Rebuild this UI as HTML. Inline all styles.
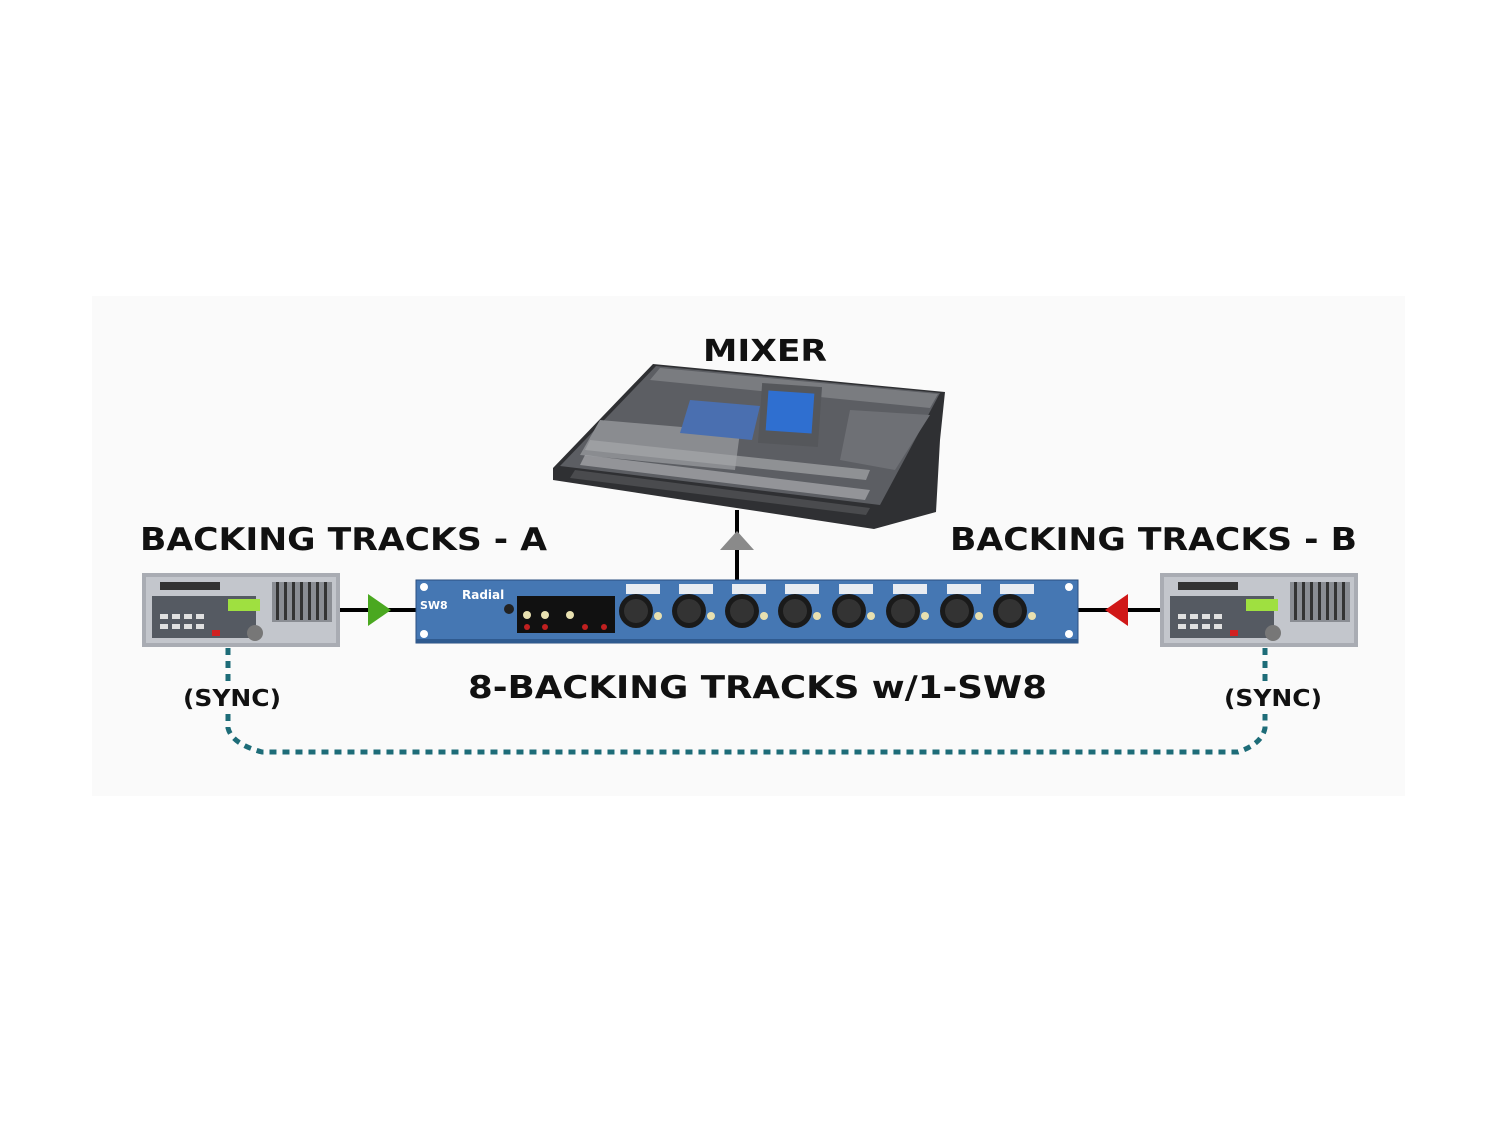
<!DOCTYPE html>
<html><head><meta charset="utf-8"><style>
html,body{margin:0;padding:0;background:#fff;}
svg{display:block;}
text{font-family:"DejaVu Sans","Liberation Sans",sans-serif;font-weight:bold;fill:#111;}
</style></head><body>
<svg width="1500" height="1125" viewBox="0 0 1500 1125" xmlns="http://www.w3.org/2000/svg">
<rect x="0" y="0" width="1500" height="1125" fill="#ffffff"/>
<rect x="92" y="296" width="1313" height="500" fill="#fafafa"/>

<text x="765" y="361" font-size="30" text-anchor="middle" textLength="124" lengthAdjust="spacingAndGlyphs">MIXER</text>
<text x="140" y="550" font-size="31" textLength="407" lengthAdjust="spacingAndGlyphs">BACKING TRACKS - A</text>
<text x="950" y="550" font-size="31" textLength="407" lengthAdjust="spacingAndGlyphs">BACKING TRACKS - B</text>
<text x="468" y="698" font-size="31" textLength="579" lengthAdjust="spacingAndGlyphs">8-BACKING TRACKS w/1-SW8</text>
<text x="183" y="706" font-size="23" textLength="98" lengthAdjust="spacingAndGlyphs">(SYNC)</text>
<text x="1224" y="706" font-size="23" textLength="98" lengthAdjust="spacingAndGlyphs">(SYNC)</text>

<!-- mixer -->
<polygon points="653,364 945,392 940,440 936,512 874,529 553,480 553,468" fill="#2f3033"/>
<polygon points="656,366 940,393 880,505 560,466" fill="#5c5e63"/>
<polygon points="660,368 938,394 930,408 650,380" fill="#7a7c80"/>
<polygon points="600,420 740,432 735,470 580,455" fill="#8a8c90"/>
<polygon points="690,400 760,406 752,440 680,433" fill="#4a6fb0"/>
<rect x="760" y="385" width="60" height="60" fill="#55575b" transform="rotate(4 790 415)"/>
<rect x="767" y="392" width="46" height="40" fill="#2f6fd0" transform="rotate(4 790 412)"/>
<polygon points="590,440 870,470 866,480 585,450" fill="#a5a7aa" opacity="0.7"/>
<polygon points="585,455 870,490 865,500 580,465" fill="#b8b9bc" opacity="0.6"/>
<polygon points="850,410 930,415 895,470 840,460" fill="#6e7075"/>
<polygon points="575,470 870,508 866,515 570,478" fill="#4a4b4e" />

<!-- connectors -->
<line x1="340" y1="610" x2="416" y2="610" stroke="#000" stroke-width="4"/>
<polygon points="368,594 368,626 391,610" fill="#4aa820"/>
<line x1="1078" y1="610" x2="1160" y2="610" stroke="#000" stroke-width="4"/>
<polygon points="1128,594 1128,626 1105,610" fill="#d01818"/>
<line x1="737" y1="510" x2="737" y2="580" stroke="#000" stroke-width="4"/>
<polygon points="720,550 754,550 737,531" fill="#8a8a8a"/>

<path d="M228,648 L228,684" stroke="#1d6c78" stroke-width="5" stroke-dasharray="7,6" fill="none"/>
<path d="M228,714 L228,728 Q232,744 262,752 L1238,752 Q1262,744 1265,728 L1265,714" stroke="#1d6c78" stroke-width="5" stroke-dasharray="7,6" fill="none"/>
<path d="M1265,648 L1265,684" stroke="#1d6c78" stroke-width="5" stroke-dasharray="7,6" fill="none"/>

<g id="rec">
<rect x="142" y="573" width="198" height="74" fill="#a9acb3"/>
<rect x="146" y="577" width="190" height="66" fill="#c3c6cc"/>
<rect x="160" y="582" width="60" height="8" fill="#333"/>
<rect x="152" y="596" width="104" height="42" fill="#555a62"/>
<rect x="228" y="599" width="32" height="12" fill="#9fe040"/>
<circle cx="255" cy="633" r="8" fill="#777"/>
<rect x="272" y="582" width="60" height="40" fill="#8a8d93"/>
<g fill="#333"><rect x="276" y="582" width="3" height="38"/><rect x="284" y="582" width="3" height="38"/><rect x="292" y="582" width="3" height="38"/><rect x="300" y="582" width="3" height="38"/><rect x="308" y="582" width="3" height="38"/><rect x="316" y="582" width="3" height="38"/><rect x="324" y="582" width="3" height="38"/></g>
<rect x="212" y="630" width="8" height="6" fill="#d02020"/>
<g fill="#e0e0e0"><rect x="160" y="614" width="8" height="5"/><rect x="172" y="614" width="8" height="5"/><rect x="184" y="614" width="8" height="5"/><rect x="196" y="614" width="8" height="5"/><rect x="160" y="624" width="8" height="5"/><rect x="172" y="624" width="8" height="5"/><rect x="184" y="624" width="8" height="5"/><rect x="196" y="624" width="8" height="5"/></g>
</g>
<use href="#rec" transform="translate(1018,0)"/>

<rect x="416" y="580" width="662" height="63" fill="#4577b3" stroke="#2a4f80" stroke-width="1"/>
<rect x="416" y="639" width="662" height="4" fill="#2f5a8f"/>
<text x="420" y="609" font-size="11" style="fill:#fff">SW8</text>
<text x="462" y="599" font-size="12" style="fill:#fff">Radial</text>
<rect x="517" y="596" width="98" height="37" fill="#111"/>
<circle cx="509" cy="609" r="5" fill="#222"/>
<g fill="#e8e0b0"><circle cx="527" cy="615" r="4"/><circle cx="545" cy="615" r="4"/><circle cx="570" cy="615" r="4"/></g>
<g fill="#c02020"><circle cx="527" cy="627" r="3"/><circle cx="545" cy="627" r="3"/><circle cx="585" cy="627" r="3"/><circle cx="604" cy="627" r="3"/></g>
<circle cx="424" cy="587" r="4" fill="#fff"/><circle cx="424" cy="634" r="4" fill="#fff"/>
<circle cx="1069" cy="587" r="4" fill="#fff"/><circle cx="1069" cy="634" r="4" fill="#fff"/>
<g id="xlr">
<rect x="626" y="584" width="34" height="10" fill="#e8ecf2"/>
<circle cx="636" cy="611" r="17" fill="#1a1a1a"/>
<circle cx="636" cy="611" r="12" fill="#333"/>
<circle cx="658" cy="616" r="4" fill="#e8e0b0"/>
</g>
<use href="#xlr" transform="translate(53,0)"/>
<use href="#xlr" transform="translate(106,0)"/>
<use href="#xlr" transform="translate(159,0)"/>
<use href="#xlr" transform="translate(213,0)"/>
<use href="#xlr" transform="translate(267,0)"/>
<use href="#xlr" transform="translate(321,0)"/>
<use href="#xlr" transform="translate(374,0)"/>
</svg>
</body></html>
